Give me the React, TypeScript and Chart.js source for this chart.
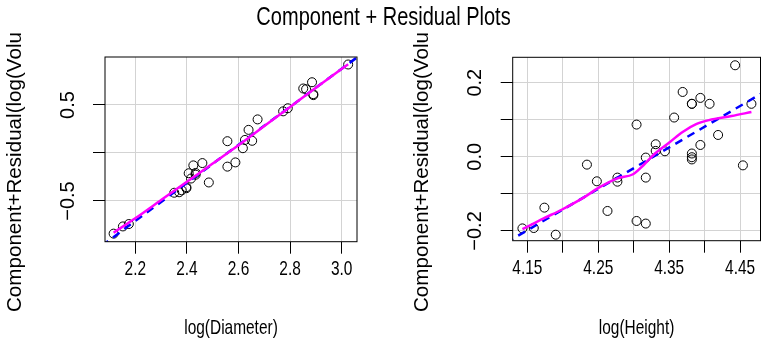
import React, { useEffect, useRef } from "react";
import { Chart, registerables } from "chart.js";
Chart.register(...registerables);

const FONT = '"Liberation Sans", Arial, sans-serif';

// ---- data ----
const treeLogDiameter = [2.116, 2.152, 2.175, 2.351, 2.37, 2.38, 2.398, 2.398, 2.407, 2.416, 2.425, 2.434, 2.434, 2.46, 2.485, 2.557, 2.557, 2.588, 2.617, 2.625, 2.639, 2.653, 2.674, 2.773, 2.791, 2.851, 2.862, 2.885, 2.89, 2.89, 3.025];
const diameterCompResid = [-0.84, -0.765, -0.74, -0.414, -0.409, -0.389, -0.367, -0.356, -0.211, -0.266, -0.129, -0.226, -0.208, -0.105, -0.307, -0.142, 0.123, -0.098, 0.05, 0.136, 0.241, 0.127, 0.35, 0.434, 0.466, 0.672, 0.664, 0.737, 0.613, 0.603, 0.922];
const treeLogHeight = [4.248, 4.174, 4.143, 4.277, 4.394, 4.419, 4.19, 4.317, 4.382, 4.317, 4.369, 4.331, 4.331, 4.234, 4.317, 4.304, 4.443, 4.454, 4.263, 4.159, 4.357, 4.382, 4.304, 4.277, 4.344, 4.394, 4.407, 4.382, 4.382, 4.382, 4.466];
const heightCompResid = [-0.066, -0.137, -0.193, -0.067, 0.032, 0.059, -0.21, -0.056, 0.143, -0.002, 0.175, 0.016, 0.034, -0.021, -0.18, -0.173, 0.247, -0.023, -0.146, -0.192, 0.106, -0.007, 0.087, -0.056, 0.015, 0.159, 0.143, 0.143, 0.009, -0.001, 0.143];

const diameterFitX = [2.07, 3.07];
const diameterFitY = [-0.966, 1.017];
const diameterSmoothX = [2.116, 2.2, 2.3, 2.4, 2.5, 2.6, 2.7, 2.8, 2.9, 3.025];
const diameterSmoothY = [-0.83, -0.68, -0.49, -0.3, -0.11, 0.08, 0.28, 0.48, 0.68, 0.925];

const heightFitX = [4.12, 4.49];
const heightFitY = [-0.2316, 0.1817];
const heightSmoothX = [4.143, 4.173, 4.199, 4.231, 4.249, 4.277, 4.299, 4.314, 4.33, 4.351, 4.369, 4.388, 4.406, 4.438, 4.466];
const heightSmoothY = [-0.195, -0.166, -0.142, -0.108, -0.085, -0.058, -0.047, -0.022, 0.009, 0.04, 0.067, 0.088, 0.099, 0.11, 0.121];

const diameterXTicks = [2.2, 2.4, 2.6, 2.8, 3.0];
const diameterXLabels = ["2.2", "2.4", "2.6", "2.8", "3.0"];
const diameterYTicks = [-0.5, 0, 0.5];
const diameterYLabels = ["\u22120.5", "", "0.5"];
const heightXTicks = [4.15, 4.2, 4.25, 4.3, 4.35, 4.4, 4.45];
const heightXLabels = ["4.15", "", "4.25", "", "4.35", "", "4.45"];
const heightYTicks = [-0.2, -0.1, 0, 0.1, 0.2];
const heightYLabels = ["\u22120.2", "", "0.0", "", "0.2"];

const MAIN_TITLE = "Component + Residual Plots";
const Y_TITLE = "Component+Residual(log(Volu";

const zip = (xs: number[], ys: number[]) => xs.map((x, i) => ({ x, y: ys[i] }));

// R-like text: horizontal text is narrow, vertical text is regular
const TEXT_SIZE = 20.6;
const SQUEEZE = 0.75;

function drawText(ctx: CanvasRenderingContext2D, text: string, x: number, y: number, size: number, k: number, rotate: boolean, align: CanvasTextAlign) {
  if (!text) return;
  ctx.save();
  ctx.translate(x, y);
  if (rotate) ctx.rotate(-Math.PI / 2);
  ctx.scale(k, 1);
  ctx.font = `${size}px ${FONT}`;
  ctx.fillStyle = "#000";
  ctx.textAlign = align;
  ctx.textBaseline = "middle";
  ctx.fillText(text, 0, 0);
  ctx.restore();
}

const framePlugin = {
  id: "rframe",
  afterDraw(chart: any, _args: any, o: any) {
    const { ctx, chartArea: a } = chart;
    const sx = chart.scales.x;
    const sy = chart.scales.y;
    ctx.save();
    ctx.strokeStyle = "#000";
    ctx.lineWidth = 1;
    ctx.strokeRect(a.left, a.top, a.right - a.left, a.bottom - a.top);
    ctx.restore();
    o.xTicks.forEach((v: number, i: number) =>
      drawText(ctx, o.xLabels[i], sx.getPixelForValue(v), a.bottom + o.xLabelGap, TEXT_SIZE, SQUEEZE, false, "center"));
    o.yTicks.forEach((v: number, i: number) =>
      drawText(ctx, o.yLabels[i], a.left - o.yLabelGap, sy.getPixelForValue(v), 20, 1, true, "center"));
    drawText(ctx, o.xTitle, (a.left + a.right) / 2, o.xTitleY, TEXT_SIZE, SQUEEZE, false, "center");
    drawText(ctx, o.yTitle, o.yTitleX, o.yTitleBottom, TEXT_SIZE, 1, true, "left");
    if (o.mainTitle) drawText(ctx, o.mainTitle, o.mainX, o.mainY, o.titleSize, 0.77, false, "center");
  },
};

type Panel = {
  pts: { x: number; y: number }[];
  fit: { x: number; y: number }[];
  smooth: { x: number; y: number }[];
  xMin: number; xMax: number; yMin: number; yMax: number;
  xTicks: number[]; yTicks: number[];
  padding: { left: number; right: number; top: number; bottom: number };
  frame: any;
};

function makeConfig(p: Panel): any {
  return {
    type: "scatter",
    data: {
      datasets: [
        { data: p.smooth, showLine: true, borderColor: "#FF00FF", borderWidth: 2.5, pointRadius: 0, order: 0, cubicInterpolationMode: "monotone" },
        { data: p.fit, showLine: true, borderColor: "#0000FF", borderWidth: 2.5, borderDash: [8, 6], pointRadius: 0, order: 1 },
        { data: p.pts, showLine: false, pointRadius: 4.5, pointBorderColor: "#000", pointBackgroundColor: "rgba(0,0,0,0)", pointBorderWidth: 1, order: 2 },
      ],
    },
    options: {
      animation: false,
      responsive: false,
      events: [],
      layout: { padding: p.padding },
      plugins: { legend: { display: false }, tooltip: { enabled: false }, rframe: p.frame },
      scales: {
        x: {
          type: "linear", min: p.xMin, max: p.xMax,
          afterBuildTicks: (s: any) => { s.ticks = p.xTicks.map((v) => ({ value: v })); },
          afterFit: (s: any) => { s.height = 60; },
          border: { display: false },
          grid: { color: "#d3d3d3", lineWidth: 1, tickLength: 12, tickColor: "#000", tickWidth: 1 },
          ticks: { display: false },
        },
        y: {
          type: "linear", min: p.yMin, max: p.yMax,
          afterBuildTicks: (s: any) => { s.ticks = p.yTicks.map((v) => ({ value: v })); },
          afterFit: (s: any) => { s.width = 60; },
          border: { display: false },
          grid: { color: "#d3d3d3", lineWidth: 1, tickLength: 12, tickColor: "#000", tickWidth: 1 },
          ticks: { display: false },
        },
      },
    },
    plugins: [framePlugin],
  };
}

const leftPanel: Panel = {
  pts: zip(treeLogDiameter, diameterCompResid),
  fit: zip(diameterFitX, diameterFitY),
  smooth: zip(diameterSmoothX, diameterSmoothY),
  xMin: 2.0826, xMax: 3.0593, yMin: -0.924, yMax: 1.0,
  xTicks: diameterXTicks, yTicks: diameterYTicks,
  padding: { left: 45, right: 409, top: 57, bottom: 39.3 },
  frame: { xTicks: diameterXTicks, xLabels: diameterXLabels, yTicks: diameterYTicks, yLabels: diameterYLabels,
    xLabelGap: 28, yLabelGap: 37,
    xTitle: "log(Diameter)", xTitleY: 328, yTitle: Y_TITLE, yTitleX: 15, yTitleBottom: 312,
    mainTitle: MAIN_TITLE, mainX: 383.5, mainY: 18, titleSize: 26 },
};

const rightPanel: Panel = {
  pts: zip(treeLogHeight, heightCompResid),
  fit: zip(heightFitX, heightFitY),
  smooth: zip(heightSmoothX, heightSmoothY),
  xMin: 4.1293, xMax: 4.4788, yMin: -0.2262, yMax: 0.2685,
  xTicks: heightXTicks, yTicks: heightYTicks,
  padding: { left: 452.7, right: 0.5, top: 57.3, bottom: 40.3 },
  frame: { xTicks: heightXTicks, xLabels: heightXLabels, yTicks: heightYTicks, yLabels: heightYLabels,
    xLabelGap: 28, yLabelGap: 37,
    xTitle: "log(Height)", xTitleY: 328, yTitle: Y_TITLE, yTitleX: 422, yTitleBottom: 312 },
};

export default function App() {
  const c1 = useRef<HTMLCanvasElement>(null);
  const c2 = useRef<HTMLCanvasElement>(null);
  useEffect(() => {
    const a = new Chart(c1.current as HTMLCanvasElement, makeConfig(leftPanel));
    const b = new Chart(c2.current as HTMLCanvasElement, makeConfig(rightPanel));
    return () => { a.destroy(); b.destroy(); };
  }, []);
  const cs: React.CSSProperties = { position: "absolute", left: 0, top: 0, width: 766, height: 341 };
  return (
    <div style={{ position: "fixed", left: 0, top: 0, width: 766, height: 341, background: "#fff", overflow: "hidden" }}>
      <canvas ref={c1} width={766} height={341} style={cs} />
      <canvas ref={c2} width={766} height={341} style={cs} />
    </div>
  );
}
